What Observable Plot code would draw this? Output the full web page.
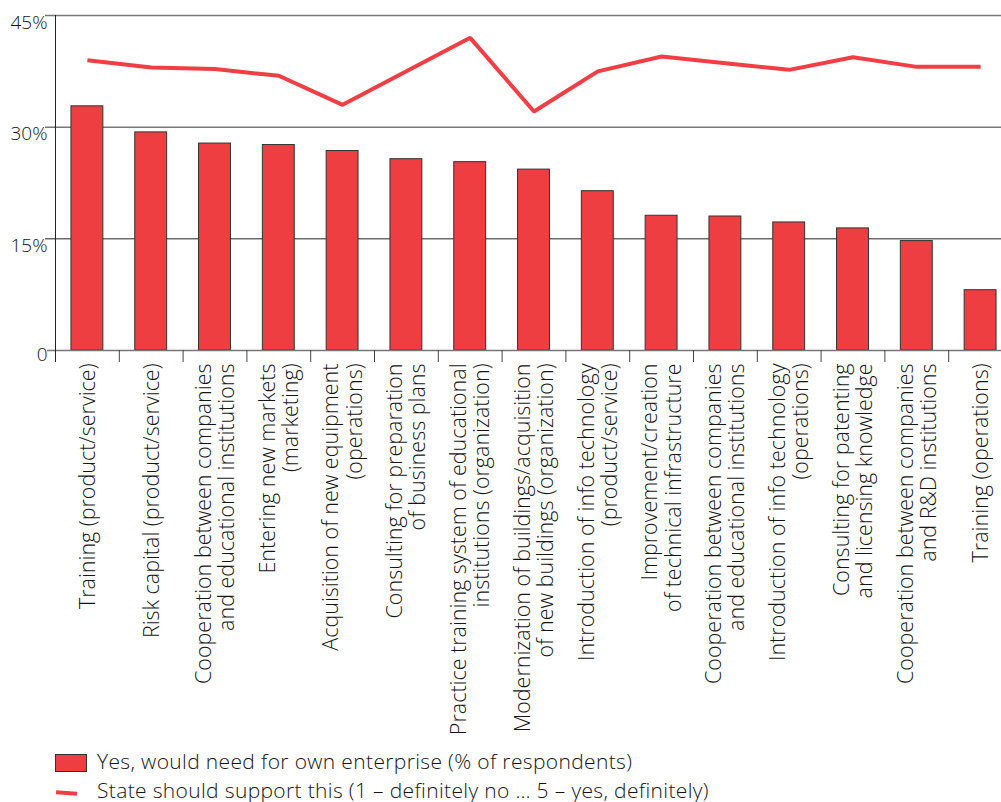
<!DOCTYPE html>
<html>
<head>
<meta charset="utf-8">
<script src="https://cdn.jsdelivr.net/npm/d3@7"></script>
<script src="https://cdn.jsdelivr.net/npm/@observablehq/plot@0.6"></script>
<style>
  body { margin: 0; background: #fff; font-family: "Open Sans", sans-serif; font-weight: 300; color: #151515; }
  #chart svg { display: block; }
  #legend { position: relative; width: 1001px; height: 57px; font-size: 21px; letter-spacing: 0.35px; }
  #legend .row { position: absolute; left: 97px; height: 24px; line-height: 24px; white-space: nowrap; }
  #legend .sw { position: absolute; left: 55px; top: 9px; width: 30px; height: 16px; background: #ee3e42; border: 1px solid #333; }
  #legend .dash { position: absolute; left: 56px; top: 46px; width: 21px; height: 4px; background: #ee3e42; transform: rotate(4deg); }
</style>
</head>
<body>
<div id="chart"></div>
<div id="legend">
  <span class="sw"></span>
  <div class="row" style="top:3.5px">Yes, would need for own enterprise (% of respondents)</div>
  <span class="dash"></span>
  <div class="row" style="top:32.6px">State should support this (1 – definitely no … 5 – yes, definitely)</div>
</div>
<script>
// Category labels (two-line labels use "\n")
const labels = [
  "Training (product/service)",
  "Risk capital (product/service)",
  "Cooperation between companies\nand educational institutions",
  "Entering new markets\n(marketing)",
  "Acquisition of new equipment\n(operations)",
  "Consulting for preparation\nof business plans",
  "Practice training system of educational\ninstitutions (organization)",
  "Modernization of buildings/acquisition\nof new buildings (organization)",
  "Introduction of info technology\n(product/service)",
  "Improvement/creation\nof technical infrastructure",
  "Cooperation between companies\nand educational institutions",
  "Introduction of info technology\n(operations)",
  "Consulting for patenting\nand licensing knowledge",
  "Cooperation between companies\nand R&D institutions",
  "Training (operations)"
];
// Yes, would need for own enterprise (% of respondents)
const needValues = [32.8, 29.3, 27.8, 27.6, 26.8, 25.7, 25.3, 24.3, 21.4, 18.1, 18.0, 17.2, 16.4, 14.7, 8.1];
// State should support this (as drawn against the left axis)
const stateValues = [39.0, 38.0, 37.8, 36.9, 33.0, 37.5, 42.0, 32.1, 37.5, 39.5, 38.6, 37.7, 39.4, 38.1, 38.1];
// Y-axis ticks
const yTicks = [0, 15, 30, 45];
const yTickLabels = ["0", "15%", "30%", "45%"];

const idx = labels.map((_, i) => i);
const data = idx.map(i => ({i, need: needValues[i], state: stateValues[i]}));

const width = 1001, height = 745;
const x0 = 55, x1 = 1012;
const step = (x1 - x0) / labels.length;

const red = "#ee3e42";
const ink = "#151515";

const chart = Plot.plot({
  width, height,
  marginLeft: 55, marginRight: 0, marginTop: 15, marginBottom: 395,
  style: {fontFamily: "'Open Sans', sans-serif", fontWeight: 300, color: ink, background: "#fff"},
  x: {type: "band", domain: idx, range: [x0, x1], paddingInner: 0.5, paddingOuter: 0.25, round: false, axis: null},
  y: {domain: [0, 45], axis: null},
  marks: [
    // gridlines
    Plot.ruleY([45, 30], {stroke: "#777", strokeWidth: 1.5, insetLeft: -10}),
    Plot.ruleY([15], {stroke: "#222", strokeWidth: 1, insetLeft: -10}),
    // bars
    Plot.barY(data, {x: "i", y: "need", fill: red, stroke: "#333", strokeWidth: 1}),
    // baseline
    Plot.ruleY([0], {stroke: "#777", strokeWidth: 1.5, insetLeft: -8}),
    // y axis line
    Plot.ruleX([0], {x: d => d, dx: -step / 2, y1: 45, y2: 0, insetBottom: -12, stroke: "#222", strokeWidth: 1}),
    // category boundary ticks
    Plot.ruleX(idx.slice(0, -1), {x: d => d, dx: step / 2, y1: 0, y2: 0, insetBottom: -12, stroke: "#444", strokeWidth: 1}),
    // state support line
    Plot.line(data, {x: "i", y: "state", stroke: "#ef3e44", strokeWidth: 4, strokeLinejoin: "miter", strokeLinecap: "butt"}),
    // y tick labels
    Plot.text(yTicks.slice(1), {y: d => d, text: d => yTickLabels[yTicks.indexOf(d)], frameAnchor: "left", textAnchor: "end", dx: -8, dy: 7, fontSize: 19, fill: ink}),
    Plot.text([0], {y: d => d, text: d => yTickLabels[0], frameAnchor: "left", textAnchor: "end", dx: -8, dy: 4, fontSize: 19, fill: ink}),
    // x category labels
    Plot.text(idx, {x: d => d, y: 0, text: d => labels[d], rotate: -90, textAnchor: "end", lineAnchor: "middle", lineHeight: 1.08, dy: 13, fontSize: 21.5, fill: ink})
  ]
});
document.getElementById("chart").appendChild(chart);
</script>
</body>
</html>
